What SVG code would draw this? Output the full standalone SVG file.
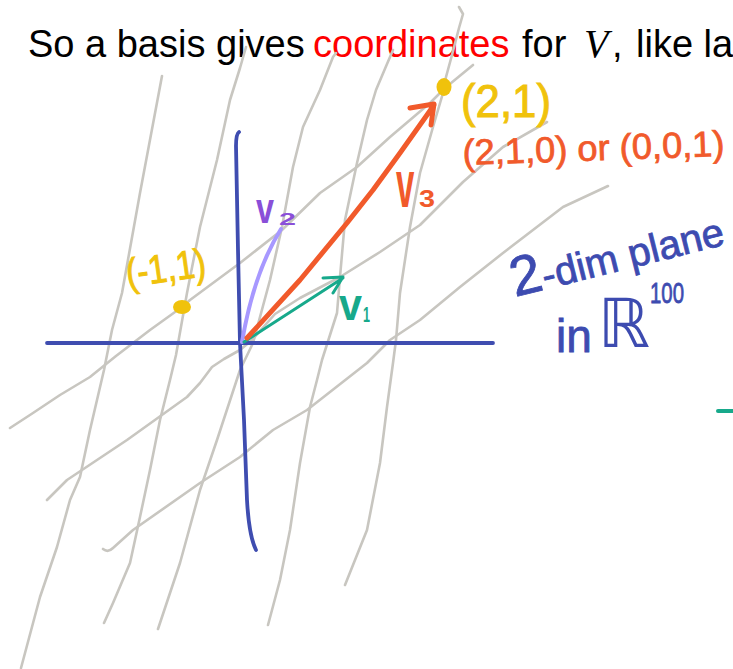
<svg xmlns="http://www.w3.org/2000/svg" width="733" height="669" viewBox="0 0 733 669">
<style>
.g{fill:none;stroke:#c8c6c0;stroke-width:2.6;stroke-linecap:round;stroke-linejoin:round}
.ax{fill:none;stroke:#3f4db0;stroke-width:3.8;stroke-linecap:round;stroke-linejoin:round}
.vec{fill:none;stroke-linecap:round;stroke-linejoin:round}
.hw{font-family:"Liberation Sans","DejaVu Sans",sans-serif}
.title{font-family:"Liberation Sans",Arial,sans-serif;font-size:38px;fill:#000}
</style>
<rect width="733" height="669" fill="#fff"/>
<g id="title">
<text class="title" y="57"><tspan x="28">So a basis gives</tspan><tspan x="313" fill="#ff0000">coordinates</tspan><tspan x="522">for</tspan><tspan x="584" font-family="'Liberation Serif',serif" font-style="italic" font-size="40">V</tspan><tspan x="612">,</tspan><tspan x="636">like la</tspan></text>
</g>
<g id="grid">
<path class="g" d="M162,76 L140,193 L122,293 L112,330 L104,370 L90,430 L80,477 L70,500 L57,547 L40,597 L21,668"/>
<path class="g" d="M246,47 L240,68 L230,100 L217,160 L200,227 L187,293 L176,355 L170,380 L160,420 L150,470 L140,517 L130,563 L113,603 L104,623"/>
<path class="g" d="M336,53 L333,57 L320,90 L303,127 L293,167 L282,227 L270,280 L253,343 L240,370 L217,440 L200,490 L180,563 L158,629"/>
<path class="g" d="M393,50 L387,64 L376,90 L367,120 L357,163 L345,220 L340,277 L337,313 L330,335 L322,360 L317,380 L310,407 L300,463 L290,530 L280,580 L268,625"/>
<path class="g" d="M459,7 L463,14 L459,28 L452,55 L446,77 L443,93 L433,127 L420,173 L410,227 L400,293 L396,340 L393,363 L387,407 L380,463 L367,530 L345,585"/>
<path class="g" d="M10,428 L33,413 L60,395 L90,377 L116,356 L150,330 L182,307 L190,300 L240,263 L282,230 L320,193 L357,167 L390,137 L430,103 L445,88 L473,65"/>
<path class="g" d="M47,500 L67,480 L127,440 L187,397 L200,383 L212,367 L224,359 L240,350 L252,340 L275,314 L300,298 L340,277 L380,252 L420,225 L463,182 L503,147 L547,122"/>
<path class="g" d="M103,549 Q108,553 113,548 L133,530 L200,483 L240,457 L273,430 L307,410 L367,363 L390,340 L420,320 L460,287 L503,253 L563,207 L608,186"/>
</g>
<g id="axes">
<path class="ax" d="M47,343 L493,343"/>
<path class="ax" d="M239,132 Q236,134 236,146 L238,250 L240,343 L244,420 L247,500 Q249,536 256,550"/>
</g>
<g id="vectors">
<path class="vec" stroke="#a798ff" stroke-width="4" d="M242,342 Q254,272 281,229"/>
<path class="vec" stroke="#17a98b" stroke-width="3" d="M244,342 L343,278 M323,278 L343,277 L333,293"/>
<path class="vec" stroke="#f15a2b" stroke-width="5" d="M247,338 L300,280 L347,223 L373,190 L400,153 L427,115 L434,105 M410,108 L434,104 L431,125"/>
<path class="vec" stroke="#17a98b" stroke-width="4" d="M718,411 L736,411"/>
</g>
<g id="points">
<ellipse cx="444" cy="87" rx="7.5" ry="9" fill="#f0c20c"/>
<ellipse cx="182" cy="307" rx="9" ry="7" fill="#f0c20c"/>
</g>
<g id="labels">
<text class="hw" x="461" y="117" font-size="46" fill="#f0c20c" stroke="#f0c20c" stroke-width="1" textLength="90" lengthAdjust="spacingAndGlyphs">(2,1)</text>
<text class="hw" x="128" y="287" font-size="40" fill="#f0c20c" stroke="#f0c20c" stroke-width="1" textLength="80" lengthAdjust="spacingAndGlyphs" transform="rotate(-8 128 287)">(-1,1)</text>
<text class="hw" x="463" y="165" font-size="36" fill="#f15a2b" stroke="#f15a2b" stroke-width="0.8" textLength="262" lengthAdjust="spacingAndGlyphs" transform="rotate(-2 463 165)">(2,1,0) or (0,0,1)</text>
<text class="hw" x="515" y="297" font-size="40" fill="#3d4bb0" stroke="#3d4bb0" stroke-width="0.8" transform="rotate(-14 515 297)"><tspan font-size="56">2</tspan>-dim plane</text>
<text class="hw" x="556" y="352" font-size="46" fill="#3d4bb0" stroke="#3d4bb0" stroke-width="0.8">in</text>
<text x="598" y="347" font-family="'DejaVu Sans',sans-serif" font-size="68" fill="#3d4bb0" textLength="52" lengthAdjust="spacingAndGlyphs">ℝ</text>
<text class="hw" x="650" y="303" font-size="30" fill="#3d4bb0" stroke="#3d4bb0" stroke-width="0.8" textLength="34" lengthAdjust="spacingAndGlyphs">100</text>
<text class="hw" x="256" y="223" font-size="42" font-weight="bold" fill="#8a4fd8" textLength="18" lengthAdjust="spacingAndGlyphs">v</text>
<text class="hw" x="279" y="225" font-size="17" font-weight="bold" fill="#8a4fd8" textLength="17" lengthAdjust="spacingAndGlyphs">2</text>
<text class="hw" x="339" y="320" font-size="44" font-weight="bold" fill="#17a98b" textLength="23" lengthAdjust="spacingAndGlyphs">v</text>
<text class="hw" x="363" y="322" font-size="22" font-weight="bold" fill="#17a98b" textLength="7" lengthAdjust="spacingAndGlyphs">1</text>
<text class="hw" transform="matrix(0.5,0,0,1,396,207)" font-size="66" font-weight="bold" fill="#f15a2b">v</text>
<text class="hw" x="419" y="207" font-size="24" font-weight="bold" fill="#f15a2b" textLength="16" lengthAdjust="spacingAndGlyphs">3</text>
</g>
</svg>
